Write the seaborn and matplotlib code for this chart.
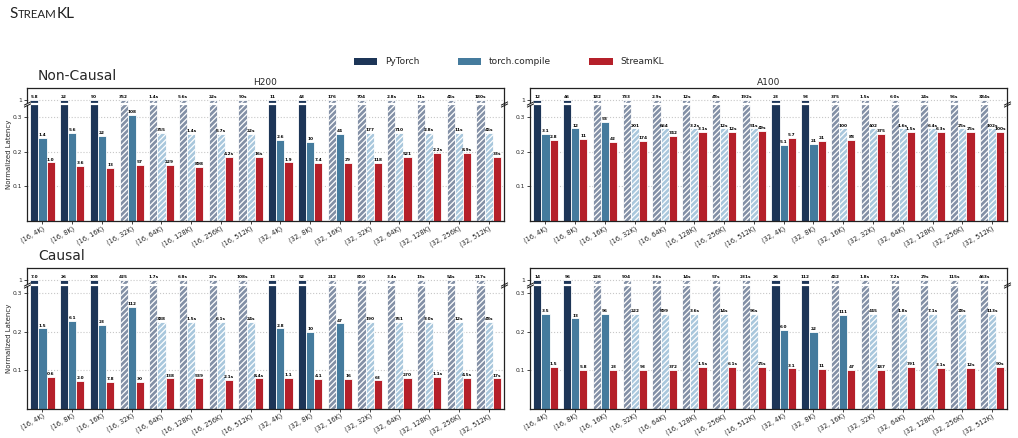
import numpy as np
import pandas as pd
import matplotlib
matplotlib.use("Agg")
import matplotlib.pyplot as plt
import matplotlib.transforms as mtransforms
from matplotlib.patches import Patch
from matplotlib.offsetbox import TextArea, HPacker, AnchoredOffsetbox
import seaborn as sns

sns.set_theme(style="white")
plt.rcParams['font.family'] = ['DejaVu Sans']
plt.rcParams['hatch.linewidth'] = 0.9

configs = ["(16, 4K)", "(16, 8K)", "(16, 16K)", "(16, 32K)", "(16, 64K)", "(16, 128K)",
           "(16, 256K)", "(16, 512K)", "(32, 4K)", "(32, 8K)", "(32, 16K)", "(32, 32K)",
           "(32, 64K)", "(32, 128K)", "(32, 256K)", "(32, 512K)"]
methods = ["PyTorch", "torch.compile", "StreamKL"]

# ---------- Non-Causal, H200 ----------
h200_nc_tc = [0.240, 0.253, 0.246, 0.306, 0.253, 0.250, 0.250, 0.250,
              0.234, 0.227, 0.251, 0.253, 0.253, 0.253, 0.253, 0.253]
h200_nc_sk = [0.169, 0.160, 0.152, 0.162, 0.162, 0.156, 0.185, 0.185,
              0.169, 0.167, 0.167, 0.167, 0.184, 0.197, 0.197, 0.184]
h200_nc_pt_lbl = ["5.8", "22", "90", "352", "1.4s", "5.6s", "22s", "90s",
                  "11", "43", "176", "704", "2.8s", "11s", "45s", "180s"]
h200_nc_tc_lbl = ["1.4", "5.6", "22", "108", "355", "1.4s", "5.7s", "22s",
                  "2.6", "10", "44", "177", "710", "2.8s", "11s", "45s"]
h200_nc_sk_lbl = ["1.0", "3.6", "13", "57", "229", "898", "4.2s", "16s",
                  "1.9", "7.4", "29", "118", "521", "2.2s", "8.9s", "33s"]
h200_nc_pt_est = [3, 4, 5, 6, 7, 10, 11, 12, 13, 14, 15]
h200_nc_tc_est = [4, 5, 6, 7, 11, 12, 13, 14, 15]

# ---------- Non-Causal, A100 ----------
a100_nc_tc = [0.251, 0.267, 0.285, 0.267, 0.267, 0.267, 0.267, 0.267,
              0.219, 0.222, 0.267, 0.267, 0.267, 0.267, 0.267, 0.267]
a100_nc_sk = [0.234, 0.237, 0.227, 0.231, 0.245, 0.257, 0.257, 0.260,
              0.239, 0.232, 0.234, 0.250, 0.257, 0.257, 0.257, 0.257]
a100_nc_pt_lbl = ["12", "46", "182", "733", "2.9s", "12s", "48s", "192s",
                  "23", "93", "375", "1.5s", "6.0s", "24s", "96s", "384s"]
a100_nc_tc_lbl = ["3.1", "12", "53", "201", "664", "3.2s", "12s", "51s",
                  "5.1", "21", "100", "402", "1.6s", "6.4s", "25s", "102s"]
a100_nc_sk_lbl = ["2.8", "11", "42", "174", "742", "3.1s", "12s", "49s",
                  "5.7", "21", "88", "375", "1.5s", "6.3s", "25s", "100s"]
a100_nc_pt_est = [2, 3, 4, 5, 6, 7, 10, 11, 12, 13, 14, 15]
a100_nc_tc_est = [3, 4, 5, 6, 7, 10, 11, 12, 13, 14, 15]

# ---------- Causal, H200 ----------
h200_c_tc = [0.208, 0.227, 0.217, 0.264, 0.224, 0.224, 0.224, 0.224,
             0.208, 0.200, 0.221, 0.224, 0.224, 0.224, 0.224, 0.224]
h200_c_sk = [0.083, 0.072, 0.070, 0.070, 0.078, 0.078, 0.074, 0.078,
             0.080, 0.076, 0.076, 0.073, 0.079, 0.081, 0.080, 0.078]
h200_c_pt_lbl = ["7.0", "26", "108", "425", "1.7s", "6.8s", "27s", "108s",
                 "13", "52", "212", "850", "3.4s", "13s", "54s", "217s"]
h200_c_tc_lbl = ["1.5", "6.1", "23", "112", "388", "1.5s", "6.1s", "24s",
                 "2.8", "10", "47", "190", "761", "3.0s", "12s", "48s"]
h200_c_sk_lbl = ["0.6", "2.0", "7.8", "30", "138", "539", "2.1s", "8.4s",
                 "1.1", "4.1", "16", "63", "270", "1.1s", "4.5s", "17s"]
h200_c_pt_est = [3, 4, 5, 6, 7, 10, 11, 12, 13, 14, 15]
h200_c_tc_est = [4, 5, 6, 7, 11, 12, 13, 14, 15]

# ---------- Causal, A100 ----------
a100_c_tc = [0.245, 0.234, 0.245, 0.245, 0.245, 0.245, 0.245, 0.245,
             0.204, 0.200, 0.243, 0.245, 0.245, 0.245, 0.245, 0.245]
a100_c_sk = [0.107, 0.100, 0.100, 0.100, 0.100, 0.107, 0.107, 0.107,
             0.104, 0.102, 0.101, 0.101, 0.107, 0.106, 0.106, 0.107]
a100_c_pt_lbl = ["14", "56", "226", "904", "3.6s", "14s", "57s", "231s",
                 "26", "112", "452", "1.8s", "7.2s", "29s", "115s", "463s"]
a100_c_tc_lbl = ["3.5", "13", "56", "222", "899", "3.6s", "14s", "56s",
                 "6.0", "22", "111", "445", "1.8s", "7.1s", "28s", "113s"]
a100_c_sk_lbl = ["1.5", "5.8", "23", "93", "372", "1.5s", "6.1s", "25s",
                 "3.1", "11", "47", "187", "791", "3.1s", "12s", "50s"]
a100_c_pt_est = [2, 3, 4, 5, 6, 7, 10, 11, 12, 13, 14, 15]
a100_c_tc_est = [3, 4, 5, 6, 7, 11, 12, 13, 14, 15]

colors = {"PyTorch": "#1d3557", "torch.compile": "#457b9d", "StreamKL": "#b5202a"}
est_colors = {"PyTorch": "#8390a6", "torch.compile": "#a9c7dc"}

W, H = 1018, 438
fig = plt.figure(figsize=(W / 100, H / 100), dpi=100)


def make_scale(B, c):
    def fwd(v):
        v = np.asarray(v, dtype=float)
        return np.where(v <= B, v, B + (v - B) * c)

    def inv(u):
        u = np.asarray(u, dtype=float)
        return np.where(u <= B, u, B + (u - B) / c)
    return fwd, inv


def panel(rect, tc, sk, pt_lbl, tc_lbl, sk_lbl, pt_est, tc_est, B, c, top,
          title=None, ylabel=False):
    ax = fig.add_axes(rect)
    n = len(configs)
    df = pd.DataFrame({
        "config": configs * 3,
        "method": ["PyTorch"] * n + ["torch.compile"] * n + ["StreamKL"] * n,
        "value": [1.0] * n + list(tc) + list(sk),
    })
    sns.barplot(data=df, x="config", y="value", hue="method", hue_order=methods,
                palette=colors, width=0.82, ax=ax, legend=False,
                edgecolor="white", linewidth=0.6, saturation=1)
    fwd, inv = make_scale(B, c)
    ax.set_yscale("function", functions=(fwd, inv))
    ax.set_ylim(0, top)
    ax.set_xlim(-0.52, 15.5)
    ax.set_axisbelow(True)
    ests = [pt_est, tc_est, []]
    lbls = [pt_lbl, tc_lbl, sk_lbl]
    for k, cont in enumerate(ax.containers):
        for i, bar in enumerate(cont):
            if i in ests[k]:
                bar.set_facecolor(est_colors[methods[k]])
                bar.set_hatch("//////")
            x = bar.get_x() + bar.get_width() / 2
            y = bar.get_height()
            ax.annotate(lbls[k][i], (x, y), xytext=(0, 0.6), textcoords="offset points",
                        ha="center", va="bottom", fontsize=3.1, fontweight="bold",
                        color="black", zorder=5)
    ax.set_yticks([0.1, 0.2, 0.3, 1.0])
    ax.set_yticklabels(["0.1", "0.2", "0.3", "1"])
    ax.tick_params(axis="y", labelsize=4.3, length=2, width=0.6, pad=1.5, left=True)
    ax.tick_params(axis="x", labelsize=4.8, length=2, width=0.6, pad=1, bottom=True)
    for lab in ax.get_xticklabels():
        lab.set_rotation(30)
        lab.set_ha("right")
        lab.set_rotation_mode("anchor")
    ax.yaxis.grid(True, linestyle=":", color="#c8c8c8", linewidth=0.8)
    ax.set_xlabel("")
    if ylabel:
        ax.set_ylabel("Normalized Latency", fontsize=5, labelpad=0.5)
    else:
        ax.set_ylabel("")
    for s in ax.spines.values():
        s.set_color("#222222")
        s.set_linewidth(0.9)
    if title:
        ax.set_title(title, fontsize=6.5, pad=2)
    # break band and marks
    ax.axhline(B, xmin=0.003, xmax=0.997, color="white", lw=1.6, zorder=3)
    trans = mtransforms.blended_transform_factory(ax.transAxes, ax.transData)
    for dy in (-1.2, 1.2):
        off = mtransforms.ScaledTranslation(0, dy / 100, fig.dpi_scale_trans)
        ax.plot([0, 1], [B, B], transform=trans + off, marker=[(-1, -0.5), (1, 0.5)],
                markersize=5, linestyle="none", color="k", mew=0.7, clip_on=False, zorder=6)
    return ax


def frac(x0, x1, ytop, ybot):
    return [x0 / W, 1 - ybot / H, (x1 - x0) / W, (ybot - ytop) / H]


nc_B, nc_c, nc_top = 0.3375, 0.0174, 2.99
c_B, c_c, c_top = 0.321, 0.0191, 2.63

panel(frac(27, 503.5, 88, 221), h200_nc_tc, h200_nc_sk, h200_nc_pt_lbl, h200_nc_tc_lbl,
      h200_nc_sk_lbl, h200_nc_pt_est, h200_nc_tc_est, nc_B, nc_c, nc_top, "H200", True)
panel(frac(530, 1007, 88, 221), a100_nc_tc, a100_nc_sk, a100_nc_pt_lbl, a100_nc_tc_lbl,
      a100_nc_sk_lbl, a100_nc_pt_est, a100_nc_tc_est, nc_B, nc_c, nc_top, "A100", False)
panel(frac(27, 503.5, 268, 408.5), h200_c_tc, h200_c_sk, h200_c_pt_lbl, h200_c_tc_lbl,
      h200_c_sk_lbl, h200_c_pt_est, h200_c_tc_est, c_B, c_c, c_top, None, True)
panel(frac(530, 1007, 268, 408.5), a100_c_tc, a100_c_sk, a100_c_pt_lbl, a100_c_tc_lbl,
      a100_c_sk_lbl, a100_c_pt_est, a100_c_tc_est, c_B, c_c, c_top, None, False)

fig.text(38 / W, 1 - 76 / H, "Non-Causal", fontsize=10, ha="left", va="center")
fig.text(38 / W, 1 - 256 / H, "Causal", fontsize=10, ha="left", va="center")

handles = [Patch(facecolor=colors[m], edgecolor="none") for m in methods]
fig.legend(handles, methods, loc="center", bbox_to_anchor=(0.5, 1 - 62 / H), ncol=3,
           frameon=False, fontsize=6.5, handlelength=2.6, handleheight=0.9,
           columnspacing=4.2, handletextpad=0.9)

# small-caps title
parts = [TextArea(t, textprops=dict(fontsize=fs, family="Lato", color="#222222"))
         for t, fs in [("S", 11), ("TREAM", 8.3), ("KL", 11)]]
packer = HPacker(children=parts, align="baseline", pad=0, sep=0.3)
title_box = AnchoredOffsetbox(loc="upper left", child=packer, pad=0, frameon=False,
                              bbox_to_anchor=(9 / W, 1 - 7 / H),
                              bbox_transform=fig.transFigure, borderpad=0)
fig.add_artist(title_box)

fig.savefig("out.png", dpi=100)
